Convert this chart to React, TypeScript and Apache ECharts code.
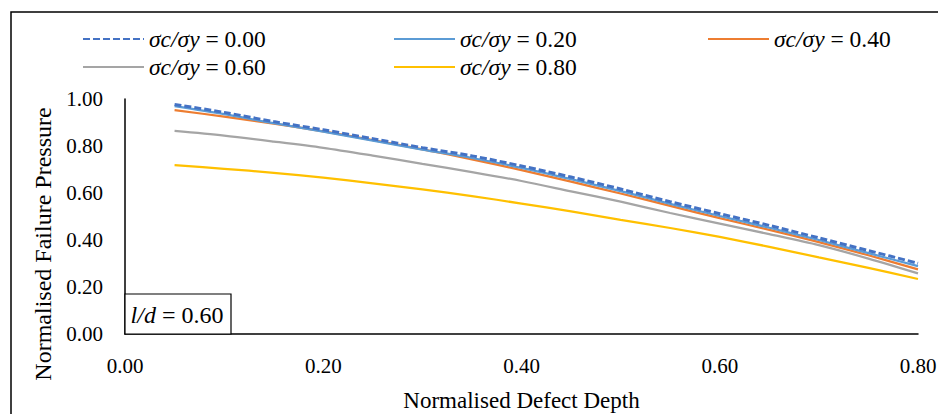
import React, { useEffect, useRef } from "react";
import * as echarts from "echarts";

const depth = [0.05, 0.10, 0.15, 0.20, 0.25, 0.30, 0.35, 0.40, 0.45, 0.50, 0.55, 0.60, 0.65, 0.70, 0.75, 0.80];
const ratio000 = [0.977, 0.943, 0.904, 0.869, 0.831, 0.793, 0.758, 0.715, 0.668, 0.617, 0.563, 0.512, 0.462, 0.409, 0.355, 0.301];
const ratio020 = [0.970, 0.936, 0.897, 0.861, 0.823, 0.785, 0.749, 0.707, 0.659, 0.608, 0.554, 0.502, 0.452, 0.400, 0.344, 0.289];
const ratio040 = [0.953, 0.925, 0.895, 0.862, 0.825, 0.786, 0.743, 0.697, 0.648, 0.598, 0.545, 0.493, 0.443, 0.391, 0.335, 0.275];
const ratio060 = [0.864, 0.844, 0.819, 0.792, 0.759, 0.724, 0.689, 0.651, 0.607, 0.563, 0.515, 0.470, 0.425, 0.378, 0.321, 0.258];
const ratio080 = [0.719, 0.703, 0.686, 0.665, 0.641, 0.615, 0.587, 0.555, 0.522, 0.486, 0.451, 0.413, 0.371, 0.326, 0.281, 0.234];

const seriesNames = ["σc/σy = 0.00", "σc/σy = 0.20", "σc/σy = 0.40", "σc/σy = 0.60", "σc/σy = 0.80"];
const seriesValues = [ratio000, ratio020, ratio040, ratio060, ratio080];
const seriesColors = ["#4472C4", "#5B9BD5", "#ED7D31", "#A5A5A5", "#FFC000"];
const xTicks = [0, 0.2, 0.4, 0.6, 0.8];
const yTicks = [0, 0.2, 0.4, 0.6, 0.8, 1.0];

const FONT = "'Liberation Serif', 'Times New Roman', serif";

export default function App() {
  const ref = useRef<HTMLDivElement>(null);
  useEffect(() => {
    if (!ref.current) return;
    const chart = echarts.init(ref.current, null, { renderer: "svg" });
    const legendPos = [
      { left: 82, top: 27 },
      { left: 393, top: 27 },
      { left: 707, top: 27 },
      { left: 82, top: 55 },
      { left: 393, top: 55 },
    ];
    const legends = seriesNames.map((n, i) => ({
      data: [n],
      left: legendPos[i].left,
      top: legendPos[i].top,
      itemWidth: 61,
      itemHeight: 14,
      itemGap: 0,
      padding: 0,
      itemStyle: { opacity: 0 },
      formatter: (name: string) => `{i|${name.slice(0, 5)}}${name.slice(5)}`,
      textStyle: {
        fontFamily: FONT,
        fontSize: 23.5,
        color: "#000",
        rich: { i: { fontFamily: FONT, fontSize: 23.5, fontStyle: "italic", color: "#000" } },
      },
      itemTextGap: 6,
      selectedMode: false,
    }));
    const series = seriesNames.map((n, i) => ({
      name: n,
      type: "line",
      smooth: 0.3,
      symbol: "none",
      showSymbol: false,
      z: i === 0 ? 10 : 5 - i,
      data: depth.map((d, k) => [d, seriesValues[i][k]]),
      lineStyle: {
        color: seriesColors[i],
        width: i === 0 ? 3 : 2.25,
        type: i === 0 ? [7, 3] : "solid",
      },
      itemStyle: { color: seriesColors[i] },
    }));
    chart.setOption({
      animation: false,
      backgroundColor: "#fff",
      legend: legends,
      grid: { left: 125, right: 20, top: 99, bottom: 80, containLabel: false, outerBoundsMode: "none" },
      xAxis: {
        type: "value",
        min: xTicks[0],
        max: xTicks[xTicks.length - 1],
        interval: 0.2,
        name: "Normalised Defect Depth",
        nameLocation: "middle",
        nameGap: 55,
        nameTextStyle: { fontFamily: FONT, fontSize: 23, color: "#000" },
        axisLine: { show: true, lineStyle: { color: "#000", width: 1.5 } },
        axisTick: { show: false },
        splitLine: { show: false },
        axisLabel: {
          margin: 21,
          fontFamily: FONT,
          fontSize: 21,
          color: "#000",
          formatter: (v: number) => v.toFixed(2),
        },
      },
      yAxis: {
        type: "value",
        min: yTicks[0],
        max: yTicks[yTicks.length - 1],
        interval: 0.2,
        axisLine: { show: true, lineStyle: { color: "#000", width: 1.5 } },
        axisTick: { show: false },
        splitLine: { show: false },
        axisLabel: {
          margin: 22,
          fontFamily: FONT,
          fontSize: 21,
          color: "#000",
          formatter: (v: number) => v.toFixed(2),
        },
      },
      graphic: [
        {
          type: "rect",
          shape: { x: 11, y: 12, width: 1000, height: 500 },
          style: { fill: "none", stroke: "#000", lineWidth: 1.5 },
          silent: true,
        },
        {
          type: "text",
          x: 43,
          y: 244,
          rotation: Math.PI / 2,
          style: {
            text: "Normalised Failure Pressure",
            fontFamily: FONT,
            fontSize: 24,
            fill: "#000",
            align: "center",
            verticalAlign: "middle",
          },
        },
        {
          type: "rect",
          shape: { x: 125, y: 294, width: 106, height: 40 },
          style: { fill: "#fff", stroke: "#000", lineWidth: 1.2 },
          z: 20,
        },
        {
          type: "text",
          x: 177,
          y: 315,
          z: 21,
          style: {
            text: "{i|l/d} = 0.60",
            fontFamily: FONT,
            fontSize: 24,
            fill: "#000",
            align: "center",
            verticalAlign: "middle",
            rich: { i: { fontFamily: FONT, fontSize: 24, fontStyle: "italic", fill: "#000" } },
          },
        },
      ],
      series,
    });
    return () => chart.dispose();
  }, []);
  return (
    <div
      ref={ref}
      style={{ position: "fixed", left: 0, top: 0, width: 938, height: 414 }}
    />
  );
}
